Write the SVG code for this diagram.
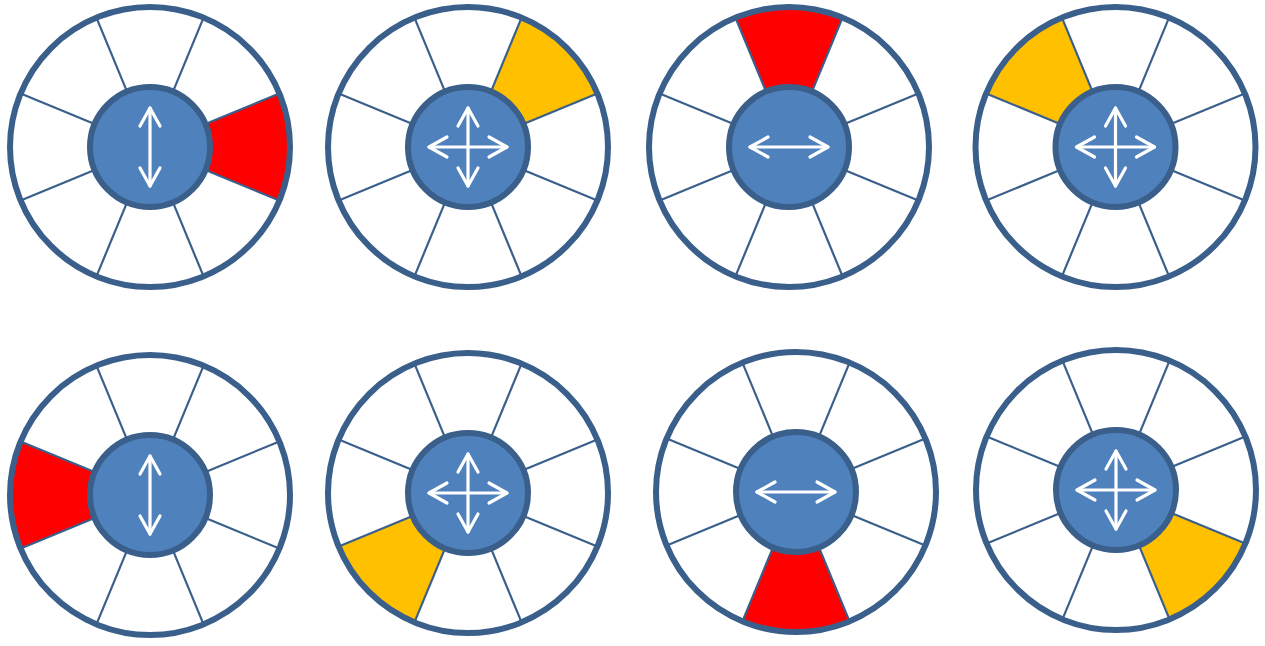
<svg xmlns="http://www.w3.org/2000/svg" xmlns:xlink="http://www.w3.org/1999/xlink" width="1265" height="646" viewBox="0 0 1265 646">
  <style>
    .disc { fill: #FFFFFF; stroke: none; }
    .rim { fill: none; stroke: #3A5F8B; stroke-width: 6; }
    .spoke { stroke: #3A5F8B; stroke-width: 2.2; }
    .hub { fill: #4F81BD; stroke: #3A5F8B; stroke-width: 6; }
    .red { fill: #FF0000; }
    .orange { fill: #FFC000; }
    .arrow { fill: none; stroke: #FFFFFF; stroke-width: 3.2; stroke-linecap: round; stroke-linejoin: round; }
  </style>
  <defs>
    <path id="sector" d="M 55.43 -22.96 L 129.34 -53.58 A 140 140 0 0 1 129.34 53.58 L 55.43 22.96 A 60 60 0 0 0 55.43 -22.96 Z"/>
    <g id="spokes" class="spoke">
      <line x1="55.43" y1="22.96" x2="129.34" y2="53.58"/>
      <line x1="22.96" y1="55.43" x2="53.58" y2="129.34"/>
      <line x1="-22.96" y1="55.43" x2="-53.58" y2="129.34"/>
      <line x1="-55.43" y1="22.96" x2="-129.34" y2="53.58"/>
      <line x1="-55.43" y1="-22.96" x2="-129.34" y2="-53.58"/>
      <line x1="-22.96" y1="-55.43" x2="-53.58" y2="-129.34"/>
      <line x1="22.96" y1="-55.43" x2="53.58" y2="-129.34"/>
      <line x1="55.43" y1="-22.96" x2="129.34" y2="-53.58"/>
    </g>
    <g id="arrow-v" class="arrow">
      <line x1="0" y1="-39" x2="0" y2="39"/>
      <polyline points="-10,-21 0,-39 10,-21"/>
      <polyline points="-10,21 0,39 10,21"/>
    </g>
    <g id="arrow-h" class="arrow">
      <line x1="-39" y1="0" x2="39" y2="0"/>
      <polyline points="-21,-10 -39,0 -21,10"/>
      <polyline points="21,-10 39,0 21,10"/>
    </g>
    <g id="arrow-4">
      <use xlink:href="#arrow-v"/>
      <use xlink:href="#arrow-h"/>
    </g>
  </defs>

  <g id="wheel-1" transform="translate(150,147)">
    <circle class="disc" r="140"/>
    <use xlink:href="#sector" class="red"/>
    <use xlink:href="#spokes"/>
    <circle class="hub" r="60"/>
    <circle class="rim" r="140"/>
    <use xlink:href="#arrow-v"/>
  </g>

  <g id="wheel-2" transform="translate(468,147)">
    <circle class="disc" r="140"/>
    <use xlink:href="#sector" class="orange" transform="rotate(-45)"/>
    <use xlink:href="#spokes"/>
    <circle class="hub" r="60"/>
    <circle class="rim" r="140"/>
    <use xlink:href="#arrow-4"/>
  </g>

  <g id="wheel-3" transform="translate(789,147)">
    <circle class="disc" r="140"/>
    <use xlink:href="#sector" class="red" transform="rotate(-90)"/>
    <use xlink:href="#spokes"/>
    <circle class="hub" r="60"/>
    <circle class="rim" r="140"/>
    <use xlink:href="#arrow-h"/>
  </g>

  <g id="wheel-4" transform="translate(1115.5,147)">
    <circle class="disc" r="140"/>
    <use xlink:href="#sector" class="orange" transform="rotate(-135)"/>
    <use xlink:href="#spokes"/>
    <circle class="hub" r="60"/>
    <circle class="rim" r="140"/>
    <use xlink:href="#arrow-4"/>
  </g>

  <g id="wheel-5" transform="translate(150,495)">
    <circle class="disc" r="140"/>
    <use xlink:href="#sector" class="red" transform="rotate(180)"/>
    <use xlink:href="#spokes"/>
    <circle class="hub" r="60"/>
    <circle class="rim" r="140"/>
    <use xlink:href="#arrow-v"/>
  </g>

  <g id="wheel-6" transform="translate(468,493)">
    <circle class="disc" r="140"/>
    <use xlink:href="#sector" class="orange" transform="rotate(135)"/>
    <use xlink:href="#spokes"/>
    <circle class="hub" r="60"/>
    <circle class="rim" r="140"/>
    <use xlink:href="#arrow-4"/>
  </g>

  <g id="wheel-7" transform="translate(796,492)">
    <circle class="disc" r="140"/>
    <use xlink:href="#sector" class="red" transform="rotate(90)"/>
    <use xlink:href="#spokes"/>
    <circle class="hub" r="60"/>
    <circle class="rim" r="140"/>
    <use xlink:href="#arrow-h"/>
  </g>

  <g id="wheel-8" transform="translate(1116,490)">
    <circle class="disc" r="140"/>
    <use xlink:href="#sector" class="orange" transform="rotate(45)"/>
    <use xlink:href="#spokes"/>
    <circle class="hub" r="60"/>
    <circle class="rim" r="140"/>
    <use xlink:href="#arrow-4"/>
  </g>

  <g id="connectors"/>
</svg>
